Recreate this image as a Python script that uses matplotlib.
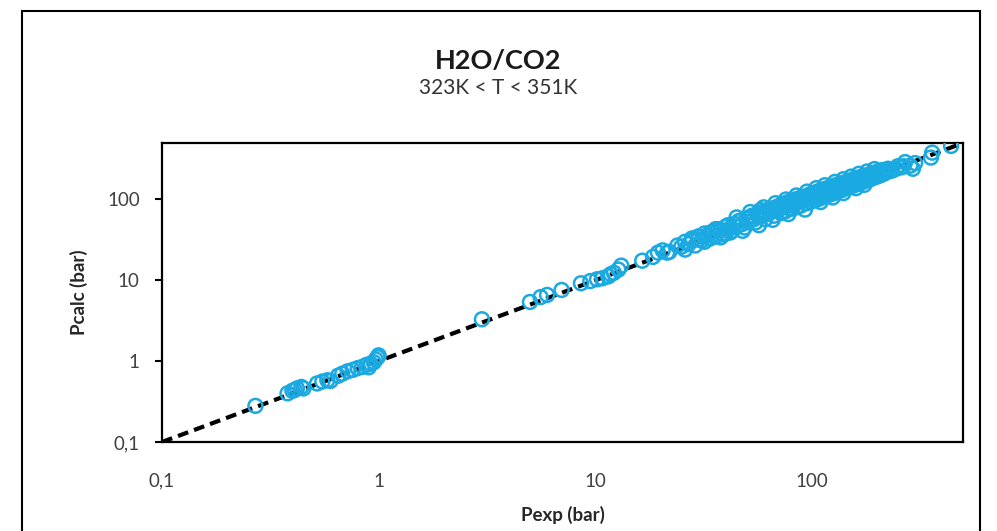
import matplotlib
matplotlib.use('Agg')
import matplotlib.pyplot as plt
from matplotlib.patches import Rectangle

# experimental vs calculated bubble pressures, H2O/CO2
pexp = [0.27,
        0.38, 0.40, 0.42, 0.44, 0.41, 0.45,
        0.52, 0.55, 0.58, 0.60, 0.65, 0.68,
        0.72, 0.76, 0.80, 0.84, 0.88, 0.92, 0.95, 0.97, 0.99, 1.0, 0.90,
        3.0,
        5.0, 5.6, 6.0, 7.0, 8.6, 9.5, 10.2, 10.8, 11.5, 12.2, 12.8, 13.2, 11.8,
        16.5, 18.5, 19.5, 20.5, 21.5, 22,
        25, 26, 27, 28, 29, 30, 31,
        33, 35, 36, 38, 40, 42,
        44, 45, 47, 48, 50, 51, 53, 54, 56, 57, 59, 60, 62, 63, 65, 66, 68,
        70, 71, 73, 75, 77, 79, 80, 82, 84, 86, 88, 90, 92, 94, 93,
        96, 98, 100, 102, 104, 106, 108, 110, 113, 115, 118, 120, 123, 125,
        128, 130, 133, 136, 139, 142, 145, 148, 152, 155, 158, 162, 166, 170,
        174, 178, 182, 186, 190, 195, 200, 205, 210, 215, 220,
        230, 245, 260, 270, 285, 293, 300, 355, 360, 440,
        32, 34, 37, 39, 41, 43, 46, 49, 52, 55, 58, 61, 64, 67, 69, 72,
        74, 76, 78, 81, 83, 85, 87, 89, 91, 95, 97, 99, 101, 103, 105, 107,
        109, 112, 114, 117, 119, 122, 124, 127, 129, 132, 135, 138, 141, 144,
        147, 150, 154, 157, 160, 164, 168, 172, 176, 180, 184, 188, 192, 198,
        203, 208, 213, 218, 225, 235, 250, 265,
        45, 52, 60, 68, 58, 76, 85, 95, 105, 115, 128, 140, 152, 165, 180, 195,
        48, 57, 66, 78, 110, 125, 140, 160, 175,
        24, 26, 28, 30, 32, 34, 36, 38, 40, 42]
pcalc = [0.28,
         0.40, 0.43, 0.46, 0.48, 0.44, 0.46,
         0.53, 0.56, 0.58, 0.57, 0.66, 0.70,
         0.75, 0.78, 0.82, 0.85, 0.90, 0.93, 0.97, 1.05, 1.12, 1.18, 0.84,
         3.3,
         5.4, 6.2, 6.6, 7.6, 9.2, 9.8, 10.3, 10.6, 11.2, 12.4, 13.6, 15.2, 11.9,
         17.5, 19.5, 22, 23.5, 22, 22.5,
         26, 30, 28, 33, 27, 32, 31,
         36, 40, 35, 42, 38, 44,
         50, 46, 55, 50, 58, 53, 63, 57, 66, 61, 63, 71, 66, 75, 70, 78, 74,
         82, 77, 88, 80, 92, 85, 95, 88, 100, 92, 104, 96, 108, 101, 75,
         112, 103, 118, 108, 122, 112, 127, 118, 132, 122, 137, 128, 142, 133,
         147, 137, 151, 142, 156, 148, 162, 152, 168, 158, 172, 163, 180, 172,
         188, 178, 195, 186, 200, 190, 208, 198, 222, 210, 230,
         226, 240, 250, 290, 262, 240, 282, 330, 380, 460,
         38, 33, 43, 37, 48, 41, 54, 45, 61, 52, 68, 57, 75, 63, 81, 68,
         86, 72, 92, 77, 97, 80, 102, 84, 107, 90, 114, 94, 119, 98, 123, 101,
         128, 106, 133, 111, 139, 116, 145, 120, 150, 126, 156, 131, 162, 138,
         169, 143, 176, 150, 183, 156, 190, 165, 197, 172, 204, 180, 210, 190,
         225, 200, 232, 212, 240, 228, 258, 258,
         60, 70, 80, 90, 74, 100, 112, 125, 138, 150, 165, 178, 192, 208, 222, 238,
         41, 48, 56, 66, 93, 106, 120, 138, 152,
         27, 24, 31, 35, 30, 39, 43, 34, 46, 39]
parity = [0.1, 500]

ticks = [0.1, 1, 10, 100]
tick_labels = ['0,1', '1', '10', '100']

plt.rcParams['font.family'] = ['Lato', 'DejaVu Sans']

fig = plt.figure(figsize=(9.97, 5.31), dpi=100)
ax = fig.add_axes([0.1625, 0.1676, 0.8035, 0.5631])

ax.plot(parity, parity, color='black', lw=3.0, ls=(0, (2.6, 1.5)), zorder=2)
ax.scatter(pexp, pcalc, s=100, facecolors='none', edgecolors='#1BA9E1',
           linewidths=1.8, zorder=3)

ax.set_xscale('log')
ax.set_yscale('log')
ax.set_xlim(0.1, 500)
ax.set_ylim(0.1, 500)
ax.set_xticks(ticks)
ax.set_xticklabels(tick_labels)
ax.set_yticks(ticks)
ax.set_yticklabels(tick_labels)
ax.minorticks_off()
ax.tick_params(axis='x', length=0, pad=22, labelsize=13.5, colors='#404040')
ax.tick_params(axis='y', length=5, width=1.5, pad=11, labelsize=13.5,
               labelcolor='#404040')
for sp in ax.spines.values():
    sp.set_linewidth(1.6)

ax.set_xlabel('Pexp (bar)', fontsize=13.5, fontweight='bold', color='#262626',
              labelpad=12)
ax.set_ylabel('Pcalc (bar)', fontsize=13.5, fontweight='bold', color='#262626',
              labelpad=14)

fig.text(0.5, 0.885, 'H2O/CO2', ha='center', va='center', fontsize=19.5,
         fontweight='bold', color='#1a1a1a')
fig.text(0.5, 0.834, '323K < T < 351K', ha='center', va='center',
         fontsize=15, color='#333333')

# outer chart border
fig.patches.append(Rectangle((22 / 997, -0.05), (980 - 22) / 997, 1.029,
                             transform=fig.transFigure, fill=False,
                             lw=1.5, edgecolor='black'))

fig.savefig('out.png', dpi=100)
